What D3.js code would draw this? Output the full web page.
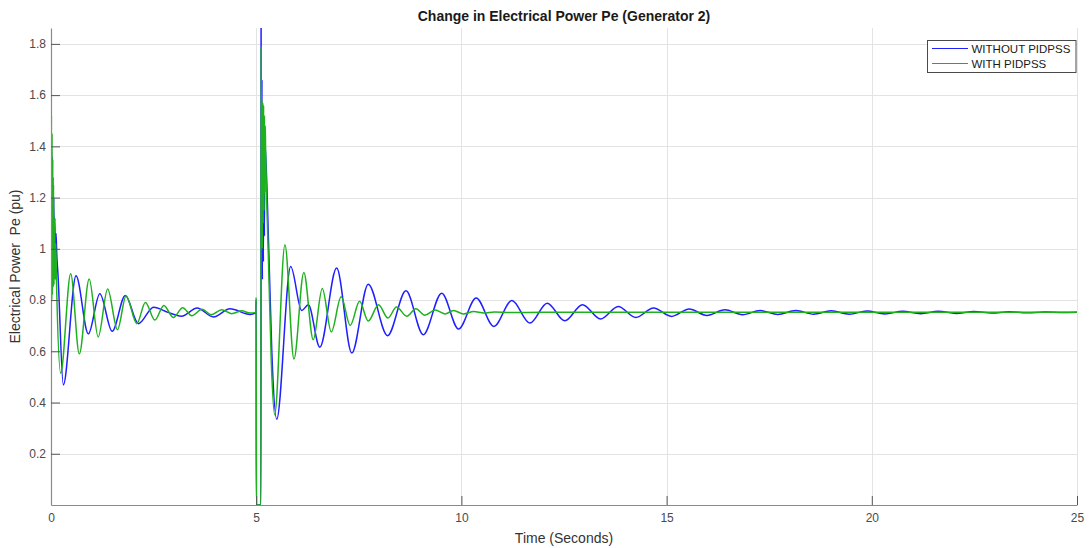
<!DOCTYPE html>
<html>
<head>
<meta charset="utf-8">
<script src="https://cdn.jsdelivr.net/npm/d3@7"></script>
<style>
  html, body { margin: 0; padding: 0; background: #ffffff; }
  svg { display: block; font-family: "Liberation Sans", Arial, Helvetica, sans-serif; }
</style>
</head>
<body>
<svg id="chart" width="1090" height="548"></svg>
<script>
// Generator 2 electrical power response: [time (s), Pe (pu)] at turning points
const withoutPidpss = [
  [0, 0.75], [0.012, 1.38], [0.02, 0.92], [0.028, 1.36], [0.037, 0.93], [0.046, 1.28],
  [0.056, 0.94], [0.067, 1.20], [0.079, 0.95], [0.092, 1.12], [0.107, 0.96], [0.122, 1.06],
  [0.14, 0.98], [0.17, 0.90], [0.30, 0.469], [0.61, 0.895], [0.91, 0.668], [1.19, 0.825],
  [1.49, 0.678], [1.81, 0.818], [2.13, 0.708], [2.50, 0.772], [2.85, 0.752], [3.18, 0.737],
  [3.56, 0.769], [3.96, 0.734], [4.36, 0.766], [4.85, 0.744], [4.99, 0.750],
  [5.0, 0.80], [5.004, 0], [5.115, 0], [5.12, 1.95], [5.13, 1.00], [5.14, 1.66],
  [5.15, 0.88], [5.16, 1.55], [5.175, 0.95], [5.19, 1.50], [5.2, 1.05], [5.21, 1.42],
  [5.30, 1.03], [5.38, 0.60], [5.50, 0.335], [5.84, 0.931], [6.11, 0.759], [6.27, 0.782],
  [6.55, 0.616], [6.96, 0.925], [7.33, 0.593], [7.73, 0.862], [8.20, 0.661], [8.65, 0.836],
  [9.07, 0.665], [9.52, 0.827], [9.93, 0.687], [10.36, 0.808], [10.79, 0.697], [11.23, 0.798],
  [11.67, 0.710], [12.09, 0.788], [12.52, 0.719], [12.95, 0.782], [13.39, 0.726], [13.82, 0.775],
  [14.25, 0.732], [14.68, 0.769], [15.12, 0.736], [15.55, 0.765], [15.98, 0.740], [16.42, 0.762],
  [16.85, 0.743], [17.28, 0.759], [17.71, 0.744], [18.15, 0.759], [18.58, 0.745], [19.01, 0.758],
  [19.45, 0.745], [19.88, 0.757], [20.32, 0.746], [20.75, 0.756], [21.19, 0.747], [21.62, 0.756],
  [22.05, 0.748], [22.49, 0.755], [22.92, 0.749], [23.35, 0.754], [23.78, 0.750], [24.22, 0.753],
  [24.65, 0.751], [25, 0.752]
];

const withPidpss = [
  [0, 0.68], [0.01, 1.52], [0.018, 0.80], [0.026, 1.45], [0.034, 0.82], [0.043, 1.35],
  [0.052, 0.85], [0.062, 1.25], [0.073, 0.86], [0.086, 1.12], [0.10, 0.88], [0.115, 1.02],
  [0.13, 0.90], [0.236, 0.515], [0.48, 0.903], [0.69, 0.590], [0.93, 0.882], [1.15, 0.656],
  [1.38, 0.843], [1.62, 0.684], [1.83, 0.817], [2.09, 0.708], [2.30, 0.790], [2.53, 0.722],
  [2.75, 0.779], [2.98, 0.732], [3.21, 0.770], [3.43, 0.739], [3.68, 0.764], [3.91, 0.743],
  [4.16, 0.762], [4.40, 0.747], [4.65, 0.758], [4.85, 0.749], [4.99, 0.752],
  [5.0, 0.81], [5.004, 0], [5.115, 0], [5.12, 1.79], [5.13, 1.05], [5.14, 1.58],
  [5.15, 1.00], [5.16, 1.57], [5.17, 1.10], [5.18, 1.56], [5.19, 1.15], [5.20, 1.52],
  [5.21, 1.22], [5.22, 1.48], [5.23, 1.38], [5.30, 0.95], [5.37, 0.55], [5.45, 0.352],
  [5.70, 1.016], [5.92, 0.570], [6.16, 0.908], [6.39, 0.645], [6.61, 0.845], [6.83, 0.676],
  [7.07, 0.813], [7.29, 0.701], [7.52, 0.795], [7.73, 0.718], [7.98, 0.782], [8.21, 0.730],
  [8.42, 0.773], [8.67, 0.737], [8.89, 0.766], [9.11, 0.741], [9.36, 0.761], [9.60, 0.746],
  [9.81, 0.759], [10.05, 0.746], [10.30, 0.755], [10.55, 0.749], [10.80, 0.753], [11.20, 0.751],
  [12.0, 0.752], [25, 0.752]
];

const xTicks = [0, 5, 10, 15, 20, 25];
const yTicks = [0.2, 0.4, 0.6, 0.8, 1.0, 1.2, 1.4, 1.6, 1.8];
const seriesNames = ["WITHOUT PIDPSS", "WITH PIDPSS"];
const seriesColors = ["#1f1fff", "#1db11d"];

const svg = d3.select("#chart");
const plotLeft = 51, plotRight = 1077, plotTop = 28, plotBottom = 505;

const x = d3.scaleLinear().domain([0, 25]).range([plotLeft, plotRight]);
const y = d3.scaleLinear().domain([0, 1.862]).range([plotBottom, plotTop]);

// grid
const grid = svg.append("g").attr("stroke", "#e3e3e3").attr("stroke-width", 1);
grid.selectAll("line.gx").data(xTicks.slice(1)).join("line")
  .attr("x1", d => Math.round(x(d)) + 0.5).attr("x2", d => Math.round(x(d)) + 0.5)
  .attr("y1", plotTop).attr("y2", plotBottom);
grid.selectAll("line.gy").data(yTicks).join("line")
  .attr("x1", plotLeft).attr("x2", plotRight)
  .attr("y1", d => Math.round(y(d)) + 0.5).attr("y2", d => Math.round(y(d)) + 0.5);

// clip region for data
svg.append("defs").append("clipPath").attr("id", "plotArea")
  .append("rect").attr("x", plotLeft).attr("y", plotTop)
  .attr("width", plotRight - plotLeft).attr("height", plotBottom - plotTop);

const line = d3.line().x(d => x(d[0])).y(d => y(d[1])).curve(d3.curveMonotoneX);

const plot = svg.append("g").attr("clip-path", "url(#plotArea)");
[withoutPidpss, withPidpss].forEach((s, i) => {
  plot.append("path").datum(s)
    .attr("fill", "none")
    .attr("stroke", seriesColors[i])
    .attr("stroke-width", 1.5)
    .attr("stroke-linejoin", "round")
    .attr("d", line);
});

// axes
const xAxis = d3.axisBottom(x).tickValues(xTicks).tickFormat(d3.format("d")).tickSizeInner(-9).tickSizeOuter(0).tickPadding(14);
const yAxis = d3.axisLeft(y).tickValues(yTicks).tickFormat(d => d3.format("~g")(d)).tickSizeInner(-9).tickSizeOuter(0).tickPadding(14);

const gx = svg.append("g").attr("transform", `translate(0,${plotBottom})`).call(xAxis);
const gy = svg.append("g").attr("transform", `translate(${plotLeft},0)`).call(yAxis);
[gx, gy].forEach(g => {
  g.select(".domain").attr("stroke", "#8a8a8a").attr("stroke-width", 1.2);
  g.selectAll(".tick line").attr("stroke", "#555555");
  g.selectAll(".tick text").attr("fill", "#4a4a4a").style("font-size", "12px")
    .style("font-family", "'Liberation Sans', Arial, sans-serif");
});
gy.selectAll(".tick text").attr("x", -5);
gx.selectAll(".tick text").attr("y", 8);

// title and axis labels
svg.append("text").attr("x", (plotLeft + plotRight) / 2).attr("y", 21)
  .attr("text-anchor", "middle").style("font-size", "14px").style("font-weight", "bold")
  .attr("fill", "#1a1a1a").text("Change in Electrical Power Pe (Generator 2)");

svg.append("text").attr("x", (plotLeft + plotRight) / 2).attr("y", 543)
  .attr("text-anchor", "middle").style("font-size", "14px")
  .attr("fill", "#333333").text("Time (Seconds)");

svg.append("text").attr("transform", `translate(20,${(plotTop + plotBottom) / 2}) rotate(-90)`)
  .attr("text-anchor", "middle").style("font-size", "14px").style("white-space", "pre")
  .attr("fill", "#333333").text("Electrical Power  Pe (pu)");

// legend
const lg = svg.append("g");
lg.append("rect").attr("x", 927.5).attr("y", 40.5).attr("width", 148.5).attr("height", 32)
  .attr("fill", "#ffffff").attr("stroke", "#4a4a4a").attr("stroke-width", 1);
seriesNames.forEach((name, i) => {
  const yy = 48.5 + i * 15;
  lg.append("line").attr("x1", 932).attr("x2", 968).attr("y1", yy).attr("y2", yy)
    .attr("stroke", seriesColors[i]).attr("stroke-width", 1.2);
  lg.append("text").attr("x", 971.5).attr("y", yy).attr("dy", "0.36em")
    .style("font-size", "11.5px").attr("fill", "#1a1a1a").text(name);
});
</script>
</body>
</html>
